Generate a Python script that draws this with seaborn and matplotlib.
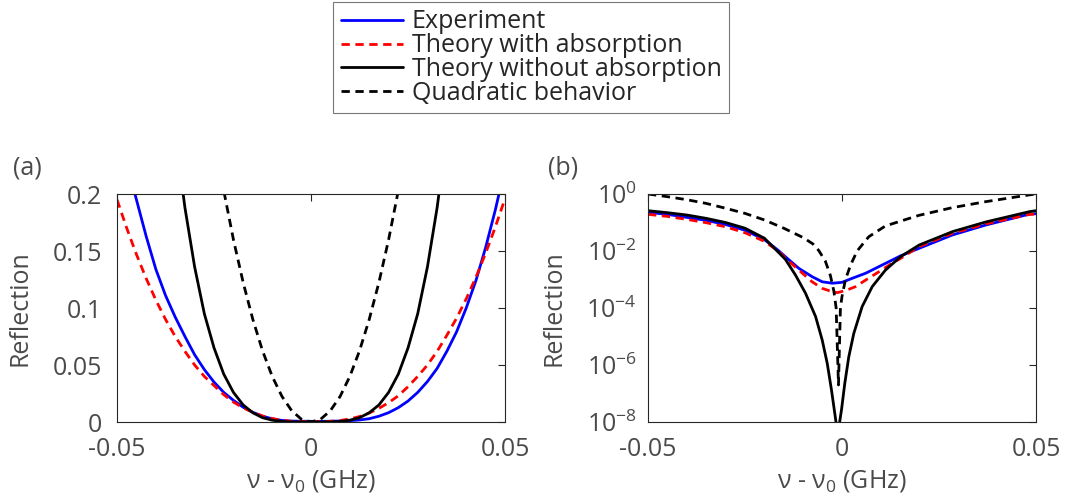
import numpy as np
import matplotlib
matplotlib.use('Agg')
import matplotlib.pyplot as plt
import seaborn as sns
from matplotlib.ticker import FixedLocator, NullLocator, FormatStrFormatter, LogFormatterSciNotation

# ---- panel (a): linear scale ----
x_a = [-0.05, -0.0475, -0.045, -0.0425, -0.04, -0.0375, -0.035, -0.0325, -0.03, -0.0275,
       -0.025, -0.0225, -0.02, -0.0175, -0.015, -0.0125, -0.01, -0.0075, -0.005, -0.0025,
       0.0,
       0.0025, 0.005, 0.0075, 0.01, 0.0125, 0.015, 0.0175, 0.02, 0.0225, 0.025,
       0.0275, 0.03, 0.0325, 0.035, 0.0375, 0.04, 0.0425, 0.045, 0.0475, 0.05]
exp_a = [0.263, 0.227, 0.195, 0.163, 0.134, 0.111, 0.092, 0.075, 0.059, 0.046,
         0.035, 0.026, 0.0190, 0.0130, 0.0085, 0.0051, 0.0028, 0.0014, 0.0008, 0.0007,
         0.0006,
         0.0006, 0.0007, 0.0009, 0.0012, 0.0018, 0.0029, 0.0051, 0.0082, 0.0126, 0.0184,
         0.026, 0.0355, 0.047, 0.062, 0.079, 0.100, 0.124, 0.153, 0.186, 0.223]
abs_a = [0.195, 0.170, 0.147, 0.126, 0.107, 0.090, 0.075, 0.062, 0.050, 0.040,
         0.032, 0.024, 0.0175, 0.0125, 0.0085, 0.0053, 0.0031, 0.0015, 0.0006, 0.0004,
         0.0003,
         0.0004, 0.0006, 0.0013, 0.0027, 0.0048, 0.0079, 0.012, 0.017, 0.023, 0.031,
         0.040, 0.050, 0.062, 0.076, 0.091, 0.108, 0.127, 0.148, 0.171, 0.196]

x_noabs_a = [-0.035, -0.0325, -0.03, -0.0275, -0.025, -0.0225, -0.02, -0.0175, -0.015, -0.0125,
             -0.01, -0.0075, -0.005, -0.0025, 0.0, 0.0025, 0.005, 0.0075, 0.01, 0.0125,
             0.015, 0.0175, 0.02, 0.0225, 0.025, 0.0275, 0.03, 0.0325, 0.035]
noabs_a = [0.253, 0.188, 0.136, 0.095, 0.065, 0.042, 0.026, 0.015, 0.0081, 0.0038,
           0.0016, 0.0005, 0.0001, 0.00001, 0.0, 0.00001, 0.0001, 0.0005, 0.0016, 0.0038,
           0.0081, 0.015, 0.026, 0.042, 0.065, 0.095, 0.136, 0.188, 0.253]

x_quad_a = [-0.025, -0.0225, -0.02, -0.0175, -0.015, -0.0125, -0.01, -0.0075, -0.005, -0.0025,
            0.0, 0.0025, 0.005, 0.0075, 0.01, 0.0125, 0.015, 0.0175, 0.02, 0.0225, 0.025]
quad_a = [0.25, 0.203, 0.16, 0.1225, 0.09, 0.0625, 0.04, 0.0225, 0.01, 0.0025,
          0.0, 0.0025, 0.01, 0.0225, 0.04, 0.0625, 0.09, 0.1225, 0.16, 0.203, 0.25]

# ---- panel (b): log scale, log10(reflection) ----
x_exp_b = [-0.05, -0.045, -0.04, -0.035, -0.03, -0.025, -0.02, -0.0164, -0.0146, -0.0111,
           -0.0077, -0.0051, -0.0025, 0.0, 0.0026, 0.0061, 0.0095, 0.0129, 0.0151, 0.0198,
           0.0284, 0.037, 0.0482, 0.05]
log_exp_b = [-0.643, -0.714, -0.82, -0.925, -1.07, -1.27, -1.6, -1.98, -2.2, -2.61,
             -2.9, -3.08, -3.13, -3.10, -2.96, -2.78, -2.55, -2.32, -2.17, -1.91,
             -1.44, -1.09, -0.71, -0.69]

x_abs_b = [-0.05, -0.045, -0.04, -0.035, -0.03, -0.025, -0.02, -0.0164, -0.0146, -0.0111,
           -0.0077, -0.0051, -0.0025, -0.0012, 0.0009, 0.0035, 0.0061, 0.0095, 0.0129, 0.0151,
           0.0198, 0.0284, 0.037, 0.0482, 0.05]
log_abs_b = [-0.714, -0.785, -0.89, -1.007, -1.15, -1.36, -1.66, -2.0, -2.25, -2.67,
             -3.08, -3.31, -3.43, -3.46, -3.39, -3.25, -3.02, -2.73, -2.43, -2.26,
             -1.85, -1.38, -1.05, -0.72, -0.70]

x_noabs_b = [-0.05, -0.045, -0.04, -0.035, -0.03, -0.025, -0.02, -0.0146, -0.012, -0.0094,
             -0.0068, -0.0051, -0.0038, -0.0027, -0.00185, -0.0015, -0.0011, -0.00064, -0.00013, 0.00073,
             0.00176, 0.00305, 0.0052, 0.0078, 0.0112, 0.0151, 0.0199, 0.0285, 0.0371, 0.0483, 0.05]
log_noabs_b = [-0.585, -0.655, -0.737, -0.854, -1.0, -1.2, -1.55, -2.29, -2.84, -3.48,
               -4.30, -5.12, -5.94, -6.88, -7.70, -8.04, -10.0, -8.04, -7.58, -6.64,
               -5.71, -4.89, -3.95, -3.25, -2.67, -2.2, -1.79, -1.32, -0.98, -0.62, -0.585]

x_quad_b = [-0.05, -0.045, -0.04, -0.035, -0.03, -0.025, -0.02, -0.015, -0.01, -0.0075,
            -0.006, -0.0043, -0.003, -0.0021, -0.0015, -0.0009, -0.0004, 0.0, 0.0009, 0.0022,
            0.0039, 0.0069, 0.0112, 0.0198, 0.0284, 0.037, 0.0481, 0.05]
log_quad_b = [0.0, -0.094, -0.2, -0.33, -0.50, -0.68, -0.91, -1.2, -1.53, -1.75,
              -1.98, -2.35, -2.85, -3.40, -4.0, -6.7, -4.0, -3.6, -3.0, -2.5,
              -2.0, -1.5, -1.12, -0.75, -0.48, -0.27, -0.035, 0.0]

labels = ['Experiment', 'Theory with absorption', 'Theory without absorption', 'Quadratic behavior']

sns.set_style('white')
plt.rcParams['font.family'] = ['Open Sans', 'DejaVu Sans']
plt.rcParams['mathtext.fontset'] = 'custom'
plt.rcParams['mathtext.rm'] = 'Open Sans'
plt.rcParams['mathtext.it'] = 'Open Sans:italic'
plt.rcParams['axes.unicode_minus'] = False
plt.rcParams['lines.dashed_pattern'] = [3.0, 2.0]

txt = '#4a4a4a'
edge = '#262626'
fs = 18

fig = plt.figure(figsize=(10.67, 5.03), dpi=100)
ax1 = fig.add_axes([0.1097, 0.161, 0.3636, 0.4533])
ax2 = fig.add_axes([0.6073, 0.161, 0.3636, 0.4533])

lw = 2.0
sns.lineplot(x=x_a, y=exp_a, ax=ax1, color='#0000ff', lw=lw, label=labels[0])
sns.lineplot(x=x_a, y=abs_a, ax=ax1, color='#ff0000', lw=lw, ls='--', label=labels[1])
sns.lineplot(x=x_noabs_a, y=noabs_a, ax=ax1, color='black', lw=lw, label=labels[2])
sns.lineplot(x=x_quad_a, y=quad_a, ax=ax1, color='black', lw=lw, ls='--', label=labels[3])

sns.lineplot(x=x_exp_b, y=10.0 ** np.array(log_exp_b), ax=ax2, color='#0000ff', lw=lw)
sns.lineplot(x=x_abs_b, y=10.0 ** np.array(log_abs_b), ax=ax2, color='#ff0000', lw=lw, ls='--')
sns.lineplot(x=x_noabs_b, y=10.0 ** np.array(log_noabs_b), ax=ax2, color='black', lw=lw)
sns.lineplot(x=x_quad_b, y=10.0 ** np.array(log_quad_b), ax=ax2, color='black', lw=lw, ls='--')

handles, labs = ax1.get_legend_handles_labels()
ax1.get_legend().remove()

ax1.set_xlim(-0.05, 0.05)
ax1.set_ylim(0, 0.2)
ax1.yaxis.set_major_locator(FixedLocator([0, 0.05, 0.1, 0.15, 0.2]))
ax1.yaxis.set_major_formatter(FormatStrFormatter('%g'))

ax2.set_yscale('log')
ax2.set_xlim(-0.05, 0.05)
ax2.set_ylim(1e-8, 1)
ax2.yaxis.set_major_locator(FixedLocator([1e-8, 1e-6, 1e-4, 1e-2, 1]))
ax2.yaxis.set_minor_locator(NullLocator())
ax2.yaxis.set_major_formatter(LogFormatterSciNotation())

for ax in (ax1, ax2):
    ax.xaxis.set_major_locator(FixedLocator([-0.05, 0, 0.05]))
    ax.xaxis.set_major_formatter(FormatStrFormatter('%g'))
    ax.tick_params(direction='in', top=True, right=True, length=5, width=0.8,
                   color=edge, labelcolor=txt, labelsize=fs)
    ax.tick_params(axis='x', pad=11)
    for s in ax.spines.values():
        s.set_color(edge)
        s.set_linewidth(0.8)
    ax.set_xlabel(r'ν - ν$_\mathrm{0}$ (GHz)', fontsize=fs, color=txt, labelpad=4)

ax1.tick_params(axis='y', pad=11)
ax2.tick_params(axis='y', pad=8)
ax1.set_ylabel('Reflection', fontsize=fs, color=txt, labelpad=14)
ax2.set_ylabel('Reflection', fontsize=fs, color=txt, labelpad=14)

fig.text(0.012, 0.666, '(a)', fontsize=fs, color=txt, va='center', ha='left')
fig.text(0.5136, 0.666, '(b)', fontsize=fs, color=txt, va='center', ha='left')

leg = fig.legend(handles, labs, loc='upper left', bbox_to_anchor=(333 / 1067, 1 - 2 / 503),
                 borderaxespad=0, frameon=True, fancybox=False, fontsize=fs,
                 handlelength=2.5, handletextpad=0.35, labelspacing=-0.05, borderpad=0.3)
leg.get_frame().set_edgecolor('#555555')
leg.get_frame().set_linewidth(0.8)
for t in leg.get_texts():
    t.set_color(edge)

fig.savefig('out.png', dpi=100)
